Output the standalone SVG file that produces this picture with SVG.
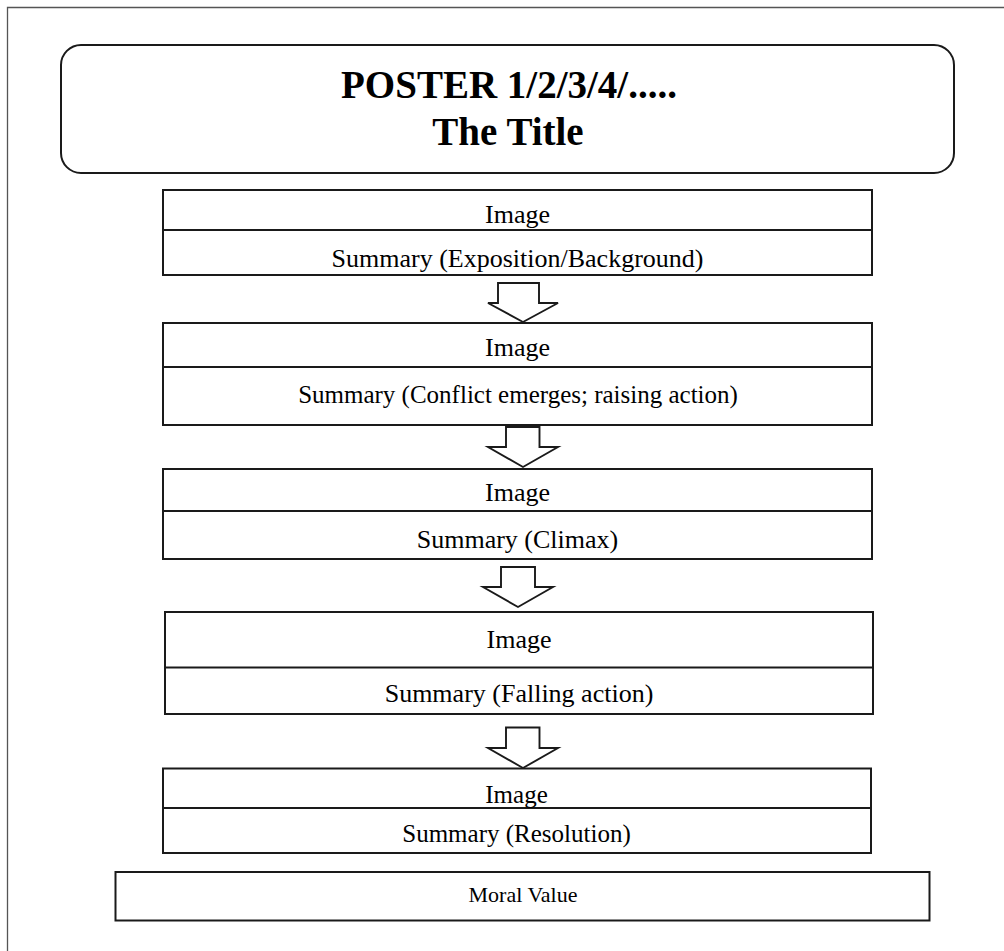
<svg xmlns="http://www.w3.org/2000/svg" width="1004" height="951" viewBox="0 0 1004 951">
<style>
  .frame { fill: none; stroke: #555; stroke-width: 1.3; }
  .box { fill: #fff; stroke: #1a1a1a; stroke-width: 2; }
  .div { stroke: #1a1a1a; stroke-width: 2; }
  .arrow { fill: #fff; stroke: #1a1a1a; stroke-width: 1.9; stroke-linejoin: miter; }
  text { font-family: "Liberation Serif", "Times New Roman", serif; fill: #000; text-anchor: middle; }
  .title { font-weight: bold; font-size: 39px; }
  .t26 { font-size: 26px; }
  .t25 { font-size: 25px; }
  .moral { font-size: 22px; }
</style>
<rect x="0" y="0" width="1004" height="951" fill="#fff"/>
<path class="frame" d="M7.5,951 V7.5 H1004"/>

<g id="title">
  <rect class="box" x="61" y="45" width="893" height="128" rx="20" ry="20"/>
  <text class="title" x="509" y="98">POSTER 1/2/3/4/.....</text>
  <text class="title" x="508" y="145">The Title</text>
</g>

<g id="node1">
  <rect class="box" x="163" y="190" width="709" height="85"/>
  <line class="div" x1="163" y1="230" x2="872" y2="230"/>
  <text class="t26" x="517.5" y="223">Image</text>
  <text class="t26" x="517.5" y="267">Summary (Exposition/Background)</text>
</g>

<g id="node2">
  <rect class="box" x="163" y="323" width="709" height="102"/>
  <line class="div" x1="163" y1="367" x2="872" y2="367"/>
  <text class="t26" x="517.5" y="356">Image</text>
  <text class="t25" x="518" y="403">Summary (Conflict emerges; raising action)</text>
</g>

<g id="node3">
  <rect class="box" x="163" y="469" width="709" height="90"/>
  <line class="div" x1="163" y1="511" x2="872" y2="511"/>
  <text class="t26" x="517.5" y="500.5">Image</text>
  <text class="t26" x="517.5" y="548">Summary (Climax)</text>
</g>

<g id="node4">
  <rect class="box" x="165" y="612" width="708" height="102"/>
  <line class="div" x1="165" y1="667.5" x2="873" y2="667.5"/>
  <text class="t26" x="519" y="648">Image</text>
  <text class="t26" x="519" y="701.5">Summary (Falling action)</text>
</g>

<g id="node5">
  <rect class="box" x="163" y="768.5" width="708" height="84.5"/>
  <line class="div" x1="163" y1="808" x2="871" y2="808"/>
  <text class="t25" x="516.5" y="802.5">Image</text>
  <text class="t25" x="516.5" y="841.5">Summary (Resolution)</text>
</g>

<g id="moral">
  <rect class="box" x="115.5" y="872" width="814" height="48.5"/>
  <text class="moral" x="523" y="901.5">Moral Value</text>
</g>

<g id="connectors">
  <polygon class="arrow" points="498,283 539,283 539,303 558,303 523,322 488,303 498,303"/>
  <polygon class="arrow" points="506,427 539.5,427 539.5,447 558,447 523,467 488,447 506,447"/>
  <polygon class="arrow" points="501,567 535,567 535,587 553,587 518,607 483,587 501,587"/>
  <polygon class="arrow" points="506,727.5 539.5,727.5 539.5,748 558,748 523,768 488,748 506,748"/>
</g>
</svg>
